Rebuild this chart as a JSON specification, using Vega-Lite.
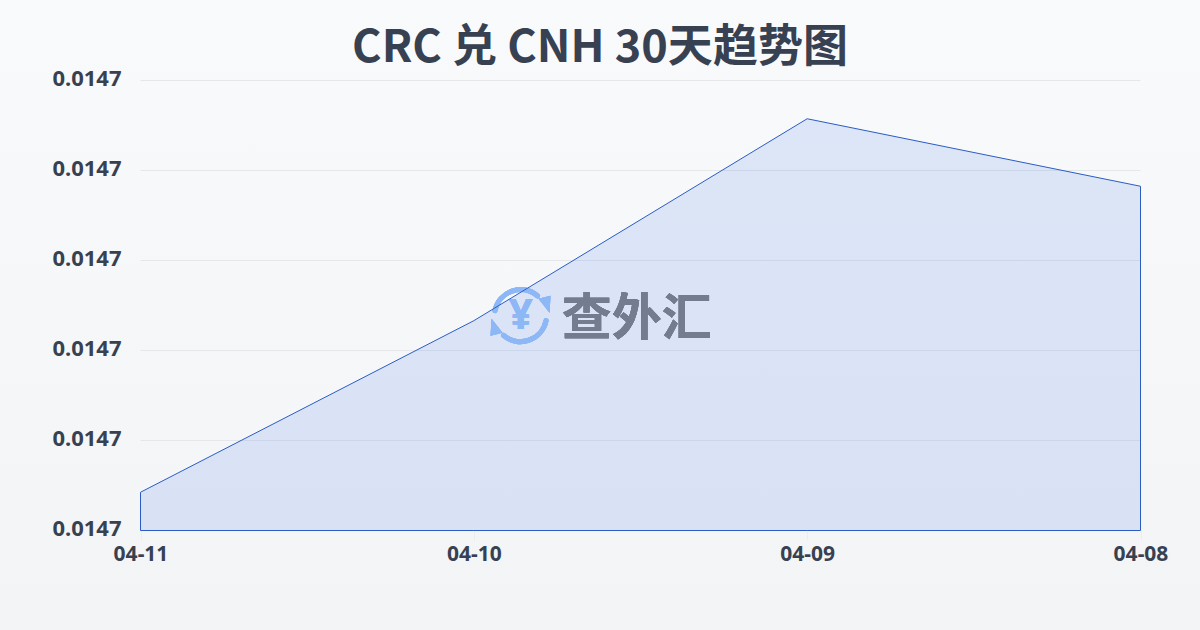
{
  "$schema": "https://vega.github.io/schema/vega-lite/v6.json",
  "width": 1200,
  "height": 630,
  "padding": 0,
  "autosize": "none",
  "title": {
    "text": "CRC 兑 CNH 30天趋势图",
    "font": "Noto Sans CJK SC",
    "fontSize": 45,
    "fontWeight": "bold",
    "color": "#374151",
    "anchor": "middle",
    "frame": "group",
    "baseline": "bottom",
    "offset": -116
  },
  "data": {
    "values": [
      {"date": "04-11", "rate": 0.0146668},
      {"date": "04-10", "rate": 0.0146973},
      {"date": "04-09", "rate": 0.0147332},
      {"date": "04-08", "rate": 0.0147212}
    ]
  },
  "encoding": {
    "x": {
      "field": "date",
      "type": "ordinal",
      "sort": null,
      "title": null,
      "scale": {"type": "point", "domain": ["04-11", "04-10", "04-09", "04-08"], "range": [140.5, 1140.5], "padding": 0},
      "axis": {
        "orient": "bottom",
        "offset": -100,
        "domain": false,
        "grid": false,
        "tickSize": 10,
        "tickColor": "#eceee8",
        "labelAngle": 0,
        "labelPadding": 3,
        "labelFont": "Noto Sans",
        "labelFontSize": 21,
        "labelFontWeight": "bold",
        "labelColor": "#374151"
      }
    },
    "y": {
      "field": "rate",
      "type": "quantitative",
      "title": null,
      "scale": {"domain": [0.01466, 0.01474], "range": [530.5, 80.5], "zero": false, "nice": false},
      "axis": {
        "orient": "left",
        "offset": -122,
        "domain": false,
        "grid": false,
        "ticks": false,
        "values": [0.01466, 0.014676, 0.014692, 0.014708, 0.014724, 0.01474],
        "format": ".4f",
        "labelPadding": 1,
        "labelOffset": -2,
        "labelFont": "Noto Sans",
        "labelFontSize": 22,
        "labelFontWeight": "bold",
        "labelColor": "#374151"
      }
    }
  },
  "layer": [
    {
      "data": {
        "values": [
          {"tick": 0.01466},
          {"tick": 0.014676},
          {"tick": 0.014692},
          {"tick": 0.014708},
          {"tick": 0.014724},
          {"tick": 0.01474}
        ]
      },
      "mark": {"type": "rule", "color": "#e5e7eb", "strokeWidth": 1},
      "encoding": {
        "x": {"datum": "04-11"},
        "x2": {"datum": "04-08"},
        "y": {"field": "tick", "type": "quantitative"}
      }
    },
    {
      "mark": {"type": "area", "fill": "#2563eb", "fillOpacity": 0.13, "stroke": null, "interpolate": "linear"},
      "encoding": {"y2": {"datum": 0.01466}}
    },
    {
      "mark": {"type": "text", "text": "查外汇", "font": "Noto Sans CJK SC", "fontWeight": "bold", "fontSize": 50, "color": "#737d8f", "align": "center", "baseline": "middle", "dx": 163, "dy": 4},
      "encoding": {"x": {"datum": "04-10"}, "y": {"datum": 0.0146982}}
    },
    {
      "mark": {"type": "text", "text": "¥", "font": "Noto Sans", "fontWeight": "bold", "fontSize": 42, "color": "#8db8f5", "align": "center", "baseline": "middle", "dx": 47},
      "encoding": {"x": {"datum": "04-10"}, "y": {"datum": 0.0146982}}
    },
    {
      "mark": {"type": "point", "filled": false, "size": 4, "stroke": "#8db8f5", "strokeWidth": 5, "strokeCap": "round", "opacity": 1, "shape": "M21.2,-5 A26,26 0 0 1 63.7,-19.7 M72.2,5 A26,26 0 0 1 29.7,19.7"},
      "encoding": {"x": {"datum": "04-10"}, "y": {"datum": 0.0146982}}
    },
    {
      "mark": {"type": "point", "filled": true, "size": 4, "fill": "#8db8f5", "opacity": 1, "shape": "M64.7,-17 L76.7,-20 L75.7,-3 Z M28.7,17 L16.7,20 L17.7,3 Z"},
      "encoding": {"x": {"datum": "04-10"}, "y": {"datum": 0.0146982}}
    },
    {
      "mark": {"type": "area", "fill": "transparent", "stroke": "#2b5cc4", "strokeWidth": 1, "interpolate": "linear"},
      "encoding": {"y2": {"datum": 0.01466}}
    }
  ],
  "config": {
    "background": "#f6f7f9",
    "view": {
      "stroke": null,
      "fill": {
        "gradient": "linear",
        "x1": 0, "y1": 0, "x2": 0, "y2": 1,
        "stops": [
          {"offset": 0, "color": "#f9fafb"},
          {"offset": 1, "color": "#f3f4f6"}
        ]
      }
    }
  }
}
